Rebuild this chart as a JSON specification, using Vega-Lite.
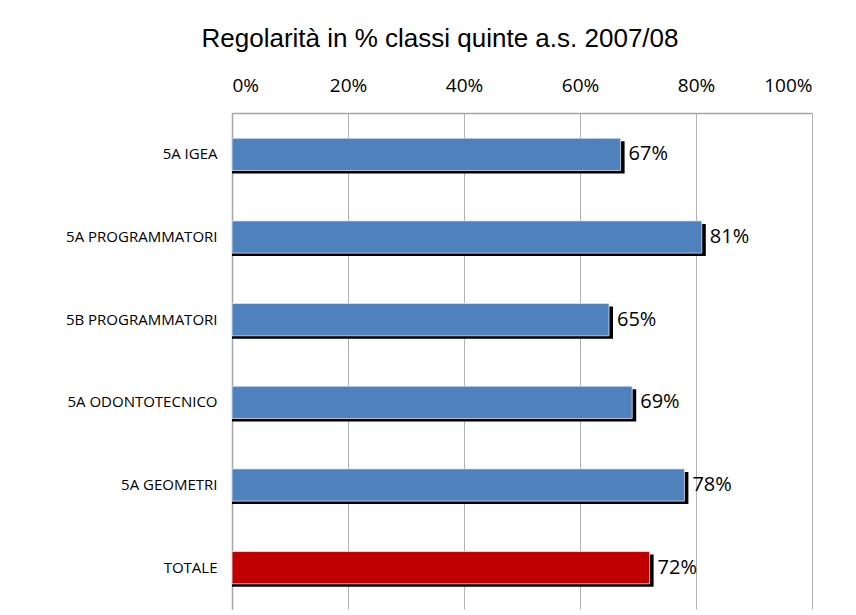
{
  "$schema": "https://vega.github.io/schema/vega-lite/v6.json",
  "width": 580,
  "height": 496,
  "autosize": {"type": "none"},
  "padding": {"left": 232, "top": 113, "right": 44, "bottom": 6},
  "background": "white",
  "title": {
    "text": "Regolarità in % classi quinte a.s. 2007/08",
    "font": "Liberation Sans",
    "fontSize": 26,
    "fontWeight": "normal",
    "color": "black",
    "anchor": "middle",
    "frame": "group",
    "dx": -82,
    "offset": 24
  },
  "data": {
    "values": [
      {"classe": "5A IGEA", "valore": 0.67, "tipo": "classe"},
      {"classe": "5A PROGRAMMATORI", "valore": 0.81, "tipo": "classe"},
      {"classe": "5B PROGRAMMATORI", "valore": 0.65, "tipo": "classe"},
      {"classe": "5A ODONTOTECNICO", "valore": 0.69, "tipo": "classe"},
      {"classe": "5A GEOMETRI", "valore": 0.78, "tipo": "classe"},
      {"classe": "TOTALE", "valore": 0.72, "tipo": "totale"}
    ]
  },
  "encoding": {
    "y": {
      "field": "classe",
      "type": "nominal",
      "sort": null,
      "scale": {"paddingInner": 0.61, "paddingOuter": 0.305},
      "axis": {
        "title": null,
        "labelFont": "Open Sans",
        "labelFontSize": 15,
        "labelColor": "black",
        "labelPadding": 15,
        "ticks": false,
        "domainColor": "#a6a6a6",
        "domainWidth": 1.5
      }
    },
    "x": {
      "field": "valore",
      "type": "quantitative",
      "scale": {"domain": [0, 1], "nice": false},
      "axis": {
        "orient": "top",
        "title": null,
        "format": ".0%",
        "values": [0, 0.2, 0.4, 0.6, 0.8, 1],
        "labelFont": "Open Sans",
        "labelFontSize": 19,
        "labelColor": "black",
        "labelPadding": 18,
        "ticks": false,
        "grid": true,
        "gridColor": "#b3b3b3",
        "gridWidth": 1,
        "domainColor": "#a6a6a6",
        "domainWidth": 1.5
      }
    }
  },
  "layer": [
    {
      "mark": {"type": "bar", "color": "black", "xOffset": 4, "yOffset": 3},
      "encoding": {"x2": {"datum": 0}}
    },
    {
      "mark": {"type": "bar", "stroke": "#dce6f2", "strokeWidth": 0.8},
      "encoding": {
        "color": {
          "field": "tipo",
          "type": "nominal",
          "scale": {"domain": ["classe", "totale"], "range": ["#4F81BD", "#C00000"]},
          "legend": null
        }
      }
    },
    {
      "mark": {"type": "text", "align": "left", "baseline": "middle", "dx": 8, "font": "Open Sans", "fontSize": 20, "color": "black"},
      "encoding": {
        "text": {"field": "valore", "type": "quantitative", "format": ".0%"}
      }
    }
  ],
  "config": {"view": {"stroke": null}}
}
